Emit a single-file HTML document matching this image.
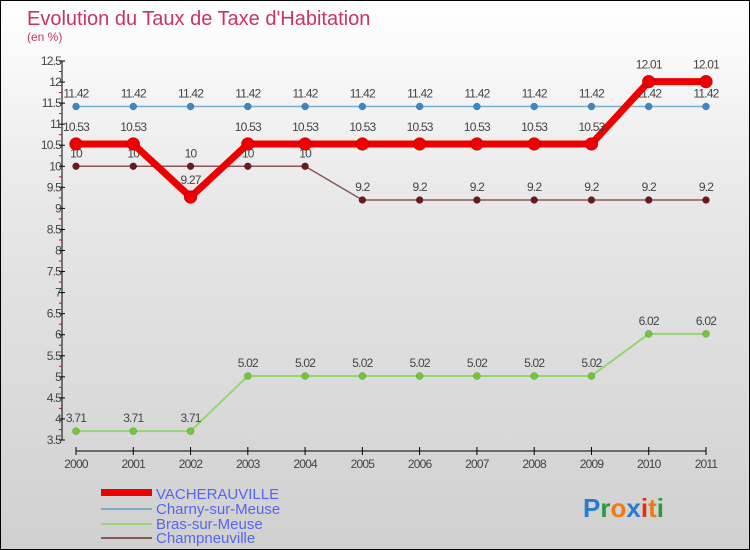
<!DOCTYPE html>
<html><head><meta charset="utf-8"><style>
body{margin:0}
#c{position:relative;width:748px;height:548px;border:1px solid #000;background:linear-gradient(#fff 0%,#e6e6e6 40%,#d0d0d0 100%);font-family:"Liberation Sans",sans-serif;overflow:hidden}
</style></head><body>
<div id="c">
<svg id="s" width="748" height="548" xmlns="http://www.w3.org/2000/svg">
<text x="26" y="24" font-size="20" fill="#c8336a">Evolution du Taux de Taxe d'Habitation</text>
<text x="26" y="40" font-size="12" fill="#c8336a">(en %)</text>
<g id="axes"></g><g id="series"></g>
<g>
<rect x="100" y="488" width="51" height="7" fill="#e00"/>
<text x="155" y="498" font-size="15" fill="#5566ee">VACHERAUVILLE</text>
<rect x="100" y="507" width="51" height="2" fill="#7aaed0"/>
<text x="155" y="513" font-size="15" fill="#5566ee">Charny-sur-Meuse</text>
<rect x="100" y="522" width="51" height="2" fill="#94d670"/>
<text x="155" y="528" font-size="15" fill="#5566ee">Bras-sur-Meuse</text>
<rect x="100" y="536" width="51" height="2" fill="#8a5555"/>
<text x="155" y="542" font-size="15" fill="#5566ee">Champneuville</text>
</g>
<text x="582" y="516" font-size="26" font-weight="bold"><tspan fill="#2a7ad0">P</tspan><tspan fill="#2a9a3a">r</tspan><tspan fill="#f07a10">o</tspan><tspan fill="#2a7ad0">x</tspan><tspan fill="#e03010">i</tspan><tspan fill="#f07a10">t</tspan><tspan fill="#2a9a3a">i</tspan></text>
</svg></div>
<script>
const years=[2000,2001,2002,2003,2004,2005,2006,2007,2008,2009,2010,2011];
const vacherauville=[10.53,10.53,9.27,10.53,10.53,10.53,10.53,10.53,10.53,10.53,12.01,12.01];
const charny=[11.42,11.42,11.42,11.42,11.42,11.42,11.42,11.42,11.42,11.42,11.42,11.42];
const bras=[3.71,3.71,3.71,5.02,5.02,5.02,5.02,5.02,5.02,5.02,6.02,6.02];
const champneuville=[10,10,10,10,10,9.2,9.2,9.2,9.2,9.2,9.2,9.2];
const vLabels=["10.53","10.53","9.27","10.53","10.53","10.53","10.53","10.53","10.53","10.53","12.01","12.01"];
const cLabels=["11.42","11.42","11.42","11.42","11.42","11.42","11.42","11.42","11.42","11.42","11.42","11.42"];
const bLabels=["3.71","3.71","3.71","5.02","5.02","5.02","5.02","5.02","5.02","5.02","6.02","6.02"];
const pLabels=["10","10","10","10","10","9.2","9.2","9.2","9.2","9.2","9.2","9.2"];
const yTicks=["3.5","4","4.5","5","5.5","6","6.5","7","7.5","8","8.5","9","9.5","10","10.5","11","11.5","12","12.5"];
const NS="http://www.w3.org/2000/svg";
const yMin=3.5,yMax=12.5,yTop=60,yBot=439;
const x=i=>75+i*(630/(years.length-1));
const y=v=>yBot-(v-yMin)/(yMax-yMin)*(yBot-yTop);
function mk(t,a,p){const e=document.createElementNS(NS,t);for(const k in a)e.setAttribute(k,a[k]);p.appendChild(e);return e;}
const ax=document.getElementById('axes');
const yl=mk('line',{x1:61,y1:yTop,x2:61,y2:yBot,stroke:'#000','stroke-width':1},ax);


yTicks.forEach(t=>{const v=parseFloat(t);const yy=y(v);
 mk('line',{x1:58,y1:yy,x2:64,y2:yy,stroke:'#000'},ax);
 if(v<yMax)mk('line',{x1:58,y1:y(v+0.25),x2:61,y2:y(v+0.25),stroke:'#e00'},ax);
 const tx=mk('text',{x:60,y:yy+4,'font-size':12,fill:'#444','text-anchor':'end','letter-spacing':'-0.8'},ax);tx.textContent=t;
 
 });
const xl=mk('line',{x1:75,y1:450,x2:705,y2:450,stroke:'#000'},ax);


years.forEach((yr,i)=>{mk('line',{x1:x(i),y1:446,x2:x(i),y2:454,stroke:'#000'},ax);
 const tx=mk('text',{x:x(i),y:467,'font-size':12,fill:'#444','text-anchor':'middle','letter-spacing':'-0.8'},ax);tx.textContent=yr;
 
 });
const sg=document.getElementById('series');
function series(d,lab,col,dot,w,r,name,dy){
 const g=mk('g',{},sg);
 
 
 mk('polyline',{points:d.map((v,i)=>x(i)+','+y(v)).join(' '),fill:'none',stroke:col,'stroke-width':w,'stroke-linejoin':'round'},g);
 d.forEach((v,i)=>{const c=mk('circle',{cx:x(i),cy:y(v),r:r,fill:dot,stroke:'rgba(0,0,0,0.3)','stroke-width':0.5},g);
  
  
  const t=mk('text',{x:x(i),y:y(v)-dy,'font-size':12,fill:'#444','text-anchor':'middle','letter-spacing':'-0.8'},g);t.textContent=lab[i];
  
  });
}
series(bras,bLabels,'#94d670','#6ec83a',2,3.5,'bras',9);
series(champneuville,pLabels,'#8a5555','#6a1a1a',1.5,3.5,'champneuville',9);
series(charny,cLabels,'#7aaed0','#3a88c8',1.5,3.5,'charny',9);
series(vacherauville,vLabels,'#e00','#e00',7,6.5,'vacherauville',13);
</script>
</body></html>
